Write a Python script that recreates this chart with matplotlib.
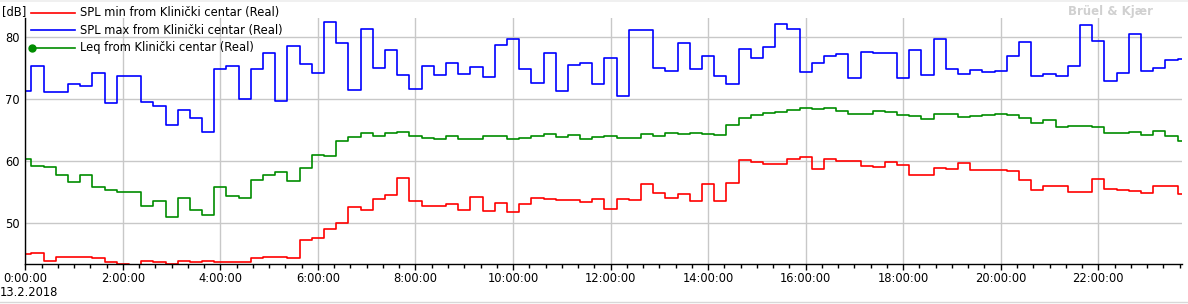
import matplotlib.pyplot as plt
import numpy as np
from matplotlib.lines import Line2D
from matplotlib.ticker import MultipleLocator, FuncFormatter

# 15 minute samples, 13.2.2018 from 0:00:00
step_min = 15

spl_max = [71.3, 75.3, 71.1, 71.1, 72.4, 72.1, 74.1, 69.4, 73.7, 73.7,
           69.5, 68.8, 65.8, 68.2, 66.9, 64.7, 74.8, 75.3, 69.9, 74.8,
           77.3, 69.7, 78.5, 75.6, 74.2, 82.4, 78.9, 71.5, 81.3, 74.9,
           77.8, 73.8, 71.6, 75.3, 73.8, 75.7, 74.0, 75.1, 73.5, 78.7,
           79.7, 74.8, 72.6, 77.3, 71.3, 75.4, 75.7, 72.4, 76.5, 70.5,
           81.0, 81.0, 74.9, 74.5, 78.9, 74.8, 76.9, 73.7, 72.4, 78.0,
           76.5, 78.3, 82.0, 81.2, 74.3, 75.7, 76.9, 77.2, 73.4, 77.5,
           77.3, 77.3, 73.4, 77.8, 73.8, 79.7, 74.8, 74.0, 74.6, 74.3,
           74.5, 76.9, 79.1, 73.7, 74.0, 73.7, 75.3, 81.8, 79.3, 72.9,
           74.1, 80.4, 74.5, 74.9, 76.2, 76.4]

leq = [60.3, 59.2, 59.0, 57.7, 56.6, 57.7, 55.8, 55.3, 55.0, 55.0,
       52.7, 53.5, 51.0, 54.0, 52.1, 51.3, 55.8, 54.4, 54.0, 56.9,
       57.7, 58.2, 56.8, 58.9, 61.0, 60.8, 63.2, 63.9, 64.5, 64.0,
       64.5, 64.7, 64.0, 63.7, 63.5, 64.0, 63.5, 63.5, 64.0, 64.0,
       63.5, 63.7, 64.0, 64.4, 63.9, 64.2, 63.5, 63.9, 64.0, 63.7,
       63.7, 64.4, 64.0, 64.5, 64.4, 64.5, 64.4, 64.2, 65.8, 66.9,
       67.4, 67.7, 67.9, 68.2, 68.5, 68.4, 68.5, 68.1, 67.6, 67.6,
       68.1, 67.9, 67.4, 67.3, 66.8, 67.6, 67.6, 67.1, 67.3, 67.4,
       67.6, 67.4, 66.9, 66.1, 66.6, 65.5, 65.6, 65.6, 65.5, 64.5,
       64.5, 64.7, 64.2, 64.8, 64.0, 63.2]

spl_min = [45.0, 45.2, 44.0, 44.5, 44.5, 44.5, 44.4, 43.7, 43.5, 43.3,
           43.9, 43.7, 43.5, 44.0, 43.7, 43.9, 43.7, 43.7, 43.7, 44.4,
           44.5, 44.5, 44.4, 47.3, 47.7, 49.0, 50.0, 52.6, 52.1, 53.9,
           54.5, 57.3, 53.5, 52.7, 52.7, 53.1, 52.1, 54.2, 51.9, 53.2,
           51.8, 53.1, 54.0, 53.9, 53.7, 53.7, 53.4, 53.9, 52.3, 53.9,
           53.7, 56.3, 54.8, 54.0, 54.7, 53.5, 56.3, 53.5, 56.5, 60.2,
           59.9, 59.6, 59.6, 60.3, 60.6, 58.7, 60.3, 60.0, 60.0, 59.2,
           59.0, 59.8, 59.4, 57.7, 57.7, 58.9, 58.7, 59.7, 58.5, 58.5,
           58.5, 58.4, 56.9, 55.3, 56.0, 56.0, 55.0, 55.0, 57.1, 55.5,
           55.3, 55.2, 54.8, 56.0, 56.0, 54.7]

labels = ['SPL min from Klinički centar (Real)',
          'SPL max from Klinički centar (Real)',
          'Leq from Klinički centar (Real)']
colors = ['#ff0000', '#0000ff', '#008c00']

hours = np.arange(len(leq)) * step_min / 60.

fig = plt.figure(figsize=(11.88, 3.04), dpi=100)
W, H = 1188., 304.
ax = fig.add_axes([25.3 / W, (H - 264) / H, (1181.7 - 25.3) / W, (264 - 18) / H])

ax.plot(hours, spl_min, drawstyle='steps-mid', color=colors[0], lw=1.2)
ax.plot(hours, spl_max, drawstyle='steps-mid', color=colors[1], lw=1.2)
ax.plot(hours, leq, drawstyle='steps-mid', color=colors[2], lw=1.2)

ax.set_xlim(0, 23.71)
ax.set_ylim(43.44, 83.0)

ax.xaxis.set_major_locator(MultipleLocator(2))
ax.xaxis.set_minor_locator(MultipleLocator(1 / 3.))
ax.xaxis.set_major_formatter(FuncFormatter(lambda v, p: '%d:00:00' % int(round(v))))
ax.yaxis.set_major_locator(MultipleLocator(10))

ax.grid(True, which='major', color='#c8c8c8', lw=1.0)
ax.set_axisbelow(True)
for s in ['top', 'right']:
    ax.spines[s].set_visible(False)
for s in ['left', 'bottom']:
    ax.spines[s].set_linewidth(1.0)
ax.tick_params(axis='x', which='major', length=4, width=1, labelsize=8.3, pad=2)
ax.tick_params(axis='x', which='minor', length=3, width=1)
ax.tick_params(axis='y', length=0, labelsize=8.3, pad=4)

fig.text(2 / W, 1 - 12 / H, '[dB]', fontsize=8.3, va='center', ha='left')
fig.text(0 / W, 1 - 293 / H, '13.2.2018', fontsize=8.3, va='center', ha='left')
fig.text(1153 / W, 1 - 12 / H, 'Brüel & Kjær', fontsize=8.5, color='#d0d0d0',
         fontweight='bold', va='center', ha='right')

# legend drawn by hand at the top left
rows = [12.7, 30.3, 48.0]
for lab, col, y in zip(labels, colors, rows):
    yf = 1 - y / H
    fig.add_artist(Line2D([31 / W, 75 / W], [yf, yf], color=col, lw=1.2))
    fig.text(80 / W, yf, lab, fontsize=8.3, va='center', ha='left')
fig.add_artist(Line2D([32 / W], [1 - rows[2] / H], color=colors[2], marker='o', ms=5))

fig.add_artist(plt.Rectangle((0, 1 - 2 / H), 1, 2 / H, color='#f0f0f0', lw=0))
fig.add_artist(Line2D([0, 1], [1 - 302 / H, 1 - 302 / H], color='#d8d8d8', lw=1))

plt.savefig('out.png', dpi=100)
